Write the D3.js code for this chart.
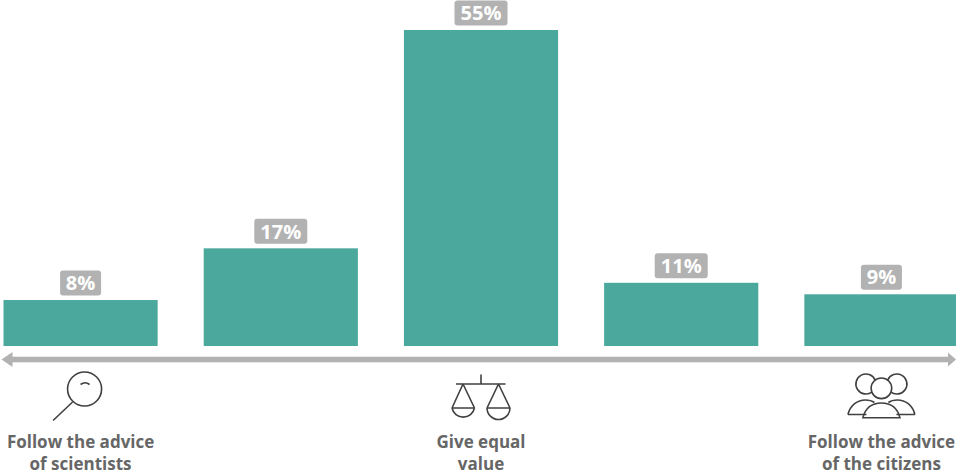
<!DOCTYPE html>
<html>
<head>
<meta charset="utf-8">
<script src="https://cdn.jsdelivr.net/npm/d3@7"></script>
<style>
html,body{margin:0;padding:0;background:#fff;overflow:hidden}
svg{display:block}
text{font-family:"Open Sans",sans-serif}
</style>
</head>
<body>
<div id="chart"></div>
<script>
const categories = ["a","b","c","d","e"];
const values = [8,17,55,11,9];
const valueLabels = ["8%","17%","55%","11%","9%"];
const axisLabels = [
  {index:0, lines:["Follow the advice","of scientists"], icon:"magnifier"},
  {index:2, lines:["Give equal","value"], icon:"scales"},
  {index:4, lines:["Follow the advice","of the citizens"], icon:"people"}
];

const W=956,H=475;
const svg=d3.select("#chart").append("svg").attr("width",W).attr("height",H);
const x=d3.scaleBand().domain(categories).range([3.5,958.5]).paddingInner(0.23).paddingOuter(0);
const y=d3.scaleLinear().domain([0,55]).range([346,30]);

svg.selectAll("rect.bar").data(values).join("rect").attr("class","bar")
  .attr("x",(d,i)=>x(categories[i])).attr("y",d=>y(d))
  .attr("width",x.bandwidth()).attr("height",d=>y(0)-y(d)).attr("fill","#4ba89c");

const lab=svg.selectAll("g.lab").data(values).join("g").attr("class","lab")
  .attr("transform",(d,i)=>`translate(${x(categories[i])+x.bandwidth()/2},${y(d)-17})`);
lab.append("rect")
  .attr("x",(d,i)=>-(valueLabels[i].length===2?20.5:26.5)).attr("width",(d,i)=>valueLabels[i].length===2?41:53)
  .attr("y",-12.5).attr("height",25).attr("rx",3).attr("fill","#b2b2b2");
lab.append("text").attr("text-anchor","middle").attr("y",7.2)
  .attr("font-size",20).attr("font-weight",700).attr("fill","#fff").text((d,i)=>valueLabels[i]);

// double arrow
const ay=359.5;
svg.append("rect").attr("x",8).attr("y",ay-2.8).attr("width",W-14).attr("height",5.6).attr("fill","#b2b2b2");
svg.append("path").attr("d",`M1.5,${ay}L12.5,${ay-7.5}V${ay+7.5}Z`).attr("fill","#b2b2b2");
svg.append("path").attr("d",`M956,${ay}L948,${ay-7}V${ay+7}Z`).attr("fill","#b2b2b2");

// captions and icons
const cap=svg.selectAll("g.cap").data(axisLabels).join("g").attr("class","cap")
  .attr("transform",d=>`translate(${x(categories[d.index])+x.bandwidth()/2},0)`);
cap.each(function(d){
  const g=d3.select(this);
  d.lines.forEach((t,i)=>g.append("text").attr("text-anchor","middle").attr("y",447.5+i*22.5)
    .attr("font-size",17).attr("font-weight",700).attr("fill","#666").text(t));
  const ic=g.append("g").attr("fill","none").attr("stroke","#404040").attr("stroke-width",1.6);
  if(d.icon==="magnifier"){
    ic.append("circle").attr("cx",4).attr("cy",389).attr("r",17);
    ic.append("path").attr("d","M-8,402L-27.5,420.5");
    ic.append("path").attr("d","M0,384.5Q4.5,381 9,384.5");
  } else if(d.icon==="scales"){
    ic.append("path").attr("d","M0,374.5V384M-25,384H24.5");
    ic.append("path").attr("d","M-18,384L-29,408M-18,384L-6.5,408M-29,408H-6.5M-29,408A11.5,11.5 0 0 0 -6.5,408");
    ic.append("path").attr("d","M17.5,384L6,408M17.5,384L29,408M6,408H29M6,408A11.5,11.5 0 0 0 29,408");
  } else {
    ic.append("path").attr("d","M-9.25,391.8A10,10 0 1 1 -6.25,380.2");
    ic.append("path").attr("d","M9.25,391.8A10,10 0 1 0 6.25,380.2");
    ic.append("circle").attr("cx",0).attr("cy",388.3).attr("r",10.3);
    ic.append("path").attr("d","M-33.5,414.5C-31,405 -24,400 -16,400C-12,400 -9,401 -7,402.5");
    ic.append("path").attr("d","M33.5,414.5C31,405 24,400 16,400C12,400 9,401 7,402.5");
    ic.append("path").attr("d","M-33.5,414.5H-15M33.5,414.5H15");
    ic.append("path").attr("d","M-18.5,417.7C-16,408 -9,403 0,403C9,403 16,408 18.5,417.7Z");
  }
});
</script>
</body>
</html>
